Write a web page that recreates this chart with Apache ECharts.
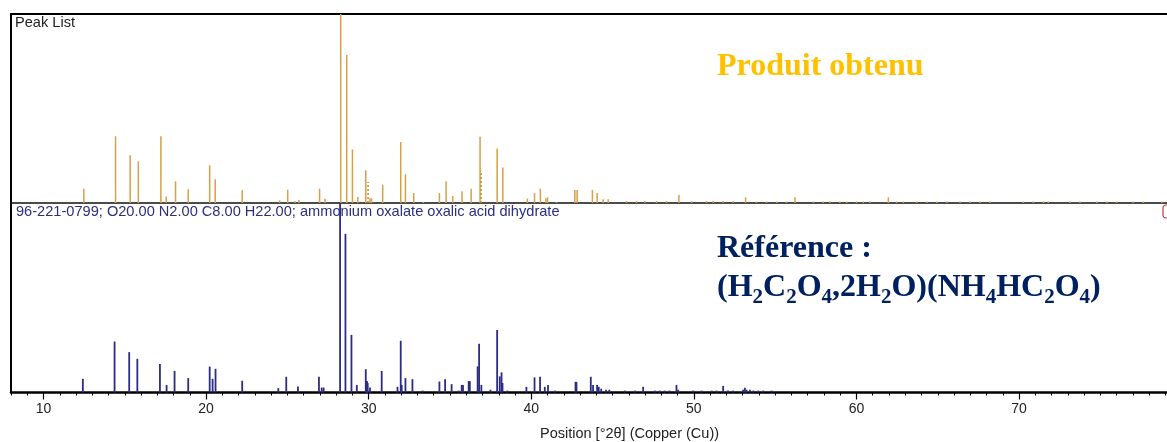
<!DOCTYPE html>
<html><head><meta charset="utf-8">
<script src="https://cdn.jsdelivr.net/npm/echarts@6/dist/echarts.min.js"></script>
<style>html,body{margin:0;padding:0;background:#fff}#c{width:1167px;height:442px}</style>
</head><body><div id="c"></div>
<script>
// ---- data (2θ position, relative intensity %) ----
const productPos = [12.48,14.43,15.33,15.83,17.22,17.55,18.12,18.90,20.22,20.56,22.22,24.52,25.02,25.47,25.71,26.98,27.31,28.28,28.65,29.00,29.33,29.82,30.08,30.18,30.86,31.97,32.26,32.77,33.36,34.35,34.76,35.17,35.74,36.30,36.85,37.90,38.25,39.76,40.20,40.56,40.90,41.00,41.55,42.68,42.82,43.76,44.05,44.42,44.73,45.86,46.47,46.98,47.70,48.32,49.08,49.86,50.78,51.19,51.80,52.42,53.18,53.85,54.47,55.09,55.70,56.22,57.35,57.96,58.37,58.98,59.40,60.00,60.42,60.83,61.96,62.47,62.88,63.70,64.32,64.93,65.55,66.37,66.98,67.60,68.22,70.27,70.88,71.50,71.80,73.14,73.75,74.78,75.40,76.00,77.03,77.65,78.78];
const productInt = [7.6,35.3,25.3,22.1,35.3,3.5,11.5,7.3,20.0,12.6,6.7,1.4,7.1,1.0,1.6,7.6,2.3,100,78.3,28.3,3.2,17.3,2.5,2.5,9.7,32.3,15.2,5.3,0.6,5.3,11.5,3.7,6.2,7.6,35.0,28.8,18.8,2.3,5.3,7.6,2.5,3.0,0.6,6.9,6.9,6.9,5.3,2.0,2.0,1.0,1.0,1.0,1.0,1.0,4.2,1.0,1.0,1.0,1.0,1.0,3.0,0.8,0.8,0.8,0.8,3.0,0.8,0.8,0.8,0.8,0.8,0.8,0.8,0.8,3.0,0.8,0.8,0.8,0.8,0.8,0.8,0.8,0.8,0.8,0.8,0.8,0.8,0.8,0.8,0.8,0.8,0.8,0.8,0.8,0.8,0.8,0.8];
const productDashPos = [29.96,36.91];
const productDashInt = [11.1,17.0];

const refPos = [12.42,14.37,15.27,15.77,17.16,17.57,18.06,18.90,20.22,20.40,20.58,22.22,24.44,24.93,25.65,26.94,27.11,27.23,28.24,28.57,28.94,29.27,29.82,29.86,29.90,29.94,30.08,30.80,31.77,31.97,32.03,32.26,32.69,33.32,34.35,34.70,35.10,35.54,35.72,35.80,36.15,36.22,36.70,36.79,36.93,37.49,37.90,38.06,38.17,38.23,38.53,39.70,40.20,40.54,40.83,41.03,41.45,42.72,42.78,43.66,43.80,44.05,44.15,44.30,44.60,44.80,45.75,46.37,46.88,47.60,47.90,48.20,48.50,48.93,49.03,49.96,50.47,51.10,51.40,51.80,52.10,52.40,53.03,53.14,53.24,53.45,53.65,53.96,54.27,54.78];
const refInt = [7.2,26.9,21.3,17.8,15.0,4.0,11.4,7.6,13.7,7.2,12.5,6.2,2.3,8.3,3.2,8.3,2.6,2.6,100,83.7,30.4,4.0,12.3,6.0,6.0,5.0,2.6,11.4,3.0,27.3,4.0,7.6,7.0,1.0,5.8,7.0,4.4,1.0,4.0,4.0,6.0,6.0,13.8,25.7,4.0,1.5,33.0,8.5,10.6,5.0,1.0,3.0,8.0,8.3,3.0,4.0,1.0,5.6,5.6,8.3,4.0,4.0,3.0,2.0,1.5,1.5,1.0,1.0,3.0,1.0,1.0,1.0,1.0,4.0,1.5,1.0,1.0,1.0,1.0,3.5,1.0,1.0,1.5,2.5,1.5,1.5,1.0,1.0,1.0,1.0];

const majorTicks = [10,20,30,40,50,60,70];
const minorTicks = [8,9,10,11,12,13,14,15,16,17,18,19,20,21,22,23,24,25,26,27,28,29,30,31,32,33,34,35,36,37,38,39,40,41,42,43,44,45,46,47,48,49,50,51,52,53,54,55,56,57,58,59,60,61,62,63,64,65,66,67,68,69,70,71,72,73,74,75,76,77,78,79];
const xMin = 8, xMax = 79.1;

const productLabel = 'Peak List';
const refLabel = '96-221-0799; O20.00 N2.00 C8.00 H22.00; ammonium oxalate oxalic acid dihydrate';
const axisTitle = 'Position [°2θ] (Copper (Cu))';

// ---- rendering ----
const pairs = (xs, ys) => xs.map((x, i) => [x, ys[i]]);
function stick(color, width, dash) {
  return function (params, api) {
    const x = api.value(0), y = api.value(1);
    const a = api.coord([x, 0]), b = api.coord([x, y]);
    return { type: 'line', shape: { x1: a[0], y1: a[1], x2: b[0], y2: b[1] },
      style: { stroke: color, lineWidth: width, lineDash: dash || null } };
  };
}
const ORANGE = '#D6A046', NAVY = '#2C2C84';
const chart = echarts.init(document.getElementById('c'), null, { renderer: 'canvas' });
const hidden = { show: false };
chart.setOption({
  animation: false,
  backgroundColor: '#fff',
  grid: [
    { left: 11, right: 0, top: 14, height: 189 },
    { left: 11, right: 0, top: 203, height: 189.5 }
  ],
  xAxis: [
    { type: 'value', gridIndex: 0, min: xMin, max: xMax, position: 'bottom',
      axisLine: { lineStyle: { color: '#111', width: 1.5 } }, axisTick: hidden, axisLabel: hidden, splitLine: hidden },
    { type: 'value', gridIndex: 0, min: xMin, max: xMax, position: 'top',
      axisLine: { lineStyle: { color: '#000', width: 2 } }, axisTick: hidden, axisLabel: hidden, splitLine: hidden },
    { type: 'value', gridIndex: 1, min: xMin, max: xMax, position: 'bottom',
      axisLine: { lineStyle: { color: '#000', width: 2.5 } },
      axisTick: { show: true, length: 7, customValues: majorTicks, lineStyle: { color: '#000', width: 1.2 } },
      axisLabel: { show: true, customValues: majorTicks, margin: 10, color: '#222', fontSize: 14, fontFamily: 'Liberation Sans' },
      splitLine: hidden },
    { type: 'value', gridIndex: 1, min: xMin, max: xMax, position: 'bottom',
      axisLine: hidden,
      axisTick: { show: true, length: 3, customValues: minorTicks, lineStyle: { color: '#000', width: 1 } },
      axisLabel: hidden, splitLine: hidden }
  ],
  yAxis: [
    { type: 'value', gridIndex: 0, min: 0, max: 100, axisLine: { show: true, lineStyle: { color: '#000', width: 2 } },
      axisTick: hidden, axisLabel: hidden, splitLine: hidden },
    { type: 'value', gridIndex: 1, min: 0, max: 100, axisLine: { show: true, lineStyle: { color: '#000', width: 2 } },
      axisTick: hidden, axisLabel: hidden, splitLine: hidden }
  ],
  series: [
    { type: 'custom', name: 'Produit obtenu', xAxisIndex: 0, yAxisIndex: 0, encode: { x: 0, y: 1 },
      data: pairs(productPos, productInt), renderItem: stick(ORANGE, 1.5) },
    { type: 'custom', name: 'Produit obtenu (pointillé)', xAxisIndex: 0, yAxisIndex: 0, encode: { x: 0, y: 1 },
      data: pairs(productDashPos, productDashInt), renderItem: stick('#C08A30', 1.5, [2, 2]) },
    { type: 'custom', name: 'Référence', xAxisIndex: 2, yAxisIndex: 1, encode: { x: 0, y: 1 },
      data: pairs(refPos, refInt), renderItem: stick(NAVY, 1.8) }
  ],
  graphic: [
    { type: 'text', x: 15, y: 23, style: { text: productLabel, font: '14.6px "Liberation Sans"', fill: '#222', textVerticalAlign: 'middle', verticalAlign: 'middle' } },
    { type: 'text', x: 16, y: 212, style: { text: refLabel, font: '14.6px "Liberation Sans"', fill: '#2B2F7E', textVerticalAlign: 'middle', verticalAlign: 'middle' } },
    { type: 'text', x: 540, y: 434, style: { text: axisTitle, font: '14.5px "Liberation Sans"', fill: '#222', textVerticalAlign: 'middle', verticalAlign: 'middle' } },
    { type: 'text', x: 717, y: 67, style: { text: 'Produit obtenu', font: 'bold 32px "Liberation Serif"', fill: '#FFC000', textVerticalAlign: 'middle', verticalAlign: 'middle' } },
    { type: 'text', x: 717, y: 249, style: { text: 'Référence :', font: 'bold 32px "Liberation Serif"', fill: '#002060', textVerticalAlign: 'middle', verticalAlign: 'middle' } },
    { type: 'text', x: 717, y: 268, style: {
        text: '{n|(H}{s|2}{n|C}{s|2}{n|O}{s|4}{n|,2H}{s|2}{n|O)(NH}{s|4}{n|HC}{s|2}{n|O}{s|4}{n|)}',
        verticalAlign: 'top', textVerticalAlign: 'top',
        rich: {
          n: { fontSize: 32, fontWeight: 'bold', fontFamily: 'Liberation Serif', fill: '#002060', lineHeight: 40, verticalAlign: 'middle' },
          s: { fontSize: 21, fontWeight: 'bold', fontFamily: 'Liberation Serif', fill: '#002060', lineHeight: 24, verticalAlign: 'bottom' }
        } } },
    { type: 'rect', x: 1163, y: 205, shape: { width: 8, height: 13, r: 3 }, style: { fill: 'none', stroke: '#B04040', lineWidth: 1.2 } }
  ]
});
</script>
</body></html>
